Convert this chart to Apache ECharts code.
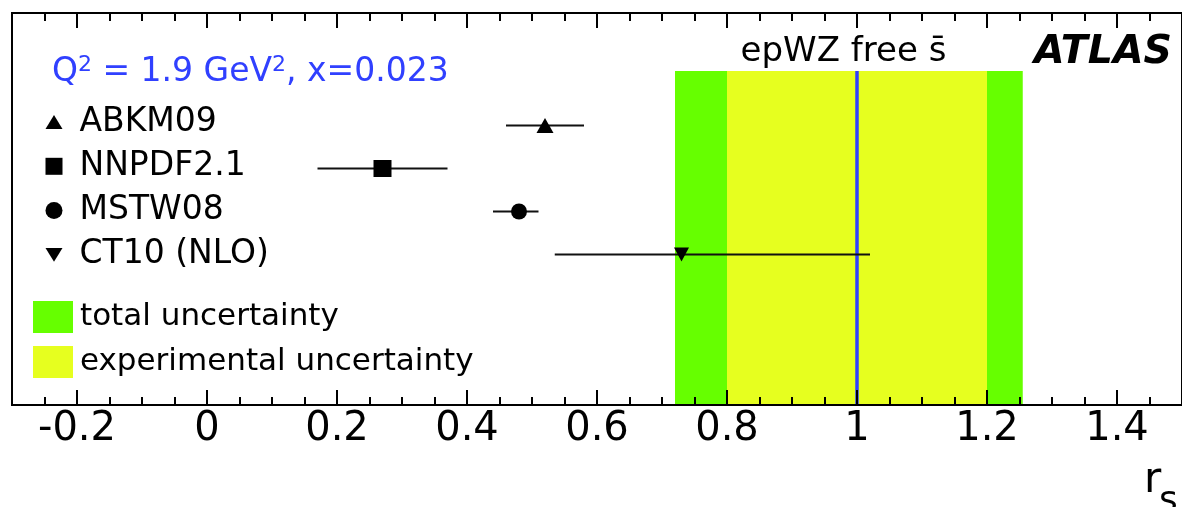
<!DOCTYPE html>
<html><head><meta charset="utf-8">
<script src="https://cdn.jsdelivr.net/npm/echarts@6/dist/echarts.min.js"></script>
<style>html,body{margin:0;padding:0;background:#fff}#c{width:1182px;height:507px}</style>
</head><body><div id="c"></div>
<script>
// ---- data ----
const models = ['ABKM09', 'NNPDF2.1', 'MSTW08', 'CT10 (NLO)'];
const central = [0.52, 0.27, 0.48, 0.73];
const errLow = [0.46, 0.17, 0.44, 0.535];
const errHigh = [0.58, 0.37, 0.51, 1.02];
const fitValue = 1.0;
const totalUnc = [0.72, 1.255];
const expUnc = [0.80, 1.20];
const bandNames = ['total uncertainty', 'experimental uncertainty'];
const fitLabel = 'epWZ free s\u0304';
const xRange = [-0.3, 1.5];

// ---- layout / style ----
const FONT = '"DejaVu Sans", sans-serif';
const rowPos = [6.5, 5.5, 4.5, 3.5];
const bandTop = 7.77;
const yMax = 9.116;
const GREEN = '#66ff00', YELLOW = '#e6ff1f', BLUE = '#3040ff';
const symbols = ['triangle', 'rect', 'circle', 'triangle'];
const symRot = [0, 0, 0, 180];
const symSize = [[17, 15], [18, 17], 16, [15, 14]];
const legendIcons = ['path://M8,0L16,13L0,13Z', 'rect', 'circle', 'path://M0,0L16,0L8,13Z'];

const chart = echarts.init(document.getElementById('c'), null, {renderer: 'canvas'});

function bandSeries(name, range, color, z) {
  return {
    name: name, type: 'custom', z: z, color: color, itemStyle: {color: color},
    data: [[range[0], range[1]]],
    renderItem: function (params, api) {
      const p0 = api.coord([api.value(0), bandTop]);
      const p1 = api.coord([api.value(1), 0]);
      return {type: 'rect', shape: {x: p0[0], y: p0[1], width: p1[0] - p0[0], height: p1[1] - p0[1]},
        style: {fill: color}};
    }
  };
}

const series = [
  bandSeries(bandNames[0], totalUnc, GREEN, 1),
  bandSeries(bandNames[1], expUnc, YELLOW, 2),
  {
    name: 'fit', type: 'custom', z: 3, data: [[fitValue]],
    renderItem: function (params, api) {
      const a = api.coord([api.value(0), 0]);
      const b = api.coord([api.value(0), bandTop]);
      return {type: 'line', shape: {x1: a[0], y1: a[1], x2: b[0], y2: b[1]}, style: {stroke: BLUE, lineWidth: 3.5}};
    }
  },
  {
    name: 'errors', type: 'custom', z: 4,
    data: models.map((m, i) => [errLow[i], errHigh[i], rowPos[i]]),
    renderItem: function (params, api) {
      const a = api.coord([api.value(0), api.value(2)]);
      const b = api.coord([api.value(1), api.value(2)]);
      return {type: 'line', shape: {x1: a[0], y1: a[1], x2: b[0], y2: b[1]}, style: {stroke: '#111', lineWidth: 2}};
    }
  }
];
models.forEach((m, i) => {
  series.push({
    name: m, type: 'scatter', z: 5, color: '#000',
    symbol: symbols[i], symbolRotate: symRot[i], symbolSize: symSize[i],
    itemStyle: {color: '#000', opacity: 1},
    data: [[central[i], rowPos[i]]],
    emphasis: {disabled: true}
  });
});

function xAxisDef(pos, major, labels) {
  const ax = {
    type: 'value', position: pos, min: xRange[0], max: xRange[1], z: 10,
    axisLine: {show: major, onZero: false, lineStyle: {color: '#000', width: 2}},
    axisTick: {show: true, inside: true, length: major ? 15 : 8, lineStyle: {color: '#000', width: 2}},
    splitLine: {show: false},
    axisLabel: {show: labels, color: '#000', fontSize: 40, fontFamily: FONT, margin: 5, lineHeight: 40,
      showMinLabel: false, showMaxLabel: false}
  };
  if (major) { ax.minInterval = 0.2; ax.maxInterval = 0.2; ax.splitNumber = 9; }
  else { ax.interval = 0.05; }
  return ax;
}

chart.setOption({
  animation: false,
  backgroundColor: '#fff',
  grid: {left: 12, top: 13, width: 1173, height: 392, show: true, borderColor: '#000', borderWidth: 2, backgroundColor: 'transparent'},
  xAxis: [xAxisDef('bottom', true, true), xAxisDef('bottom', false, false), xAxisDef('top', true, false), xAxisDef('top', false, false)],
  yAxis: {type: 'value', min: 0, max: yMax, show: false},
  legend: [
    {
      data: models.map((m, i) => ({name: m, icon: legendIcons[i]})),
      orient: 'vertical', left: 45.5, top: 105.5, padding: 0, itemWidth: 17, itemHeight: 17, itemGap: 11.3,
      selectedMode: false,
      textStyle: {color: '#000', fontSize: 33, fontFamily: FONT, lineHeight: 33, padding: [0, 0, 0, 12]}
    },
    {
      data: bandNames.map(n => ({name: n, icon: 'rect'})),
      orient: 'vertical', left: 33, top: 301, padding: 0, itemWidth: 40, itemHeight: 32, itemGap: 13,
      selectedMode: false,
      textStyle: {color: '#000', fontSize: 31, fontFamily: FONT, lineHeight: 32, padding: [0, 0, 0, 2]}
    }
  ],
  graphic: [
    {
      type: 'text', x: 52, y: 72, z: 20,
      style: {
        text: '{a|Q}{s|2}{a| = 1.9 GeV}{s|2}{a|, x=0.023}', align: 'left', verticalAlign: 'middle',
        rich: {
          a: {fontSize: 33, fontFamily: FONT, fill: BLUE, color: BLUE, lineHeight: 36},
          s: {fontSize: 22, fontFamily: FONT, fill: BLUE, color: BLUE, lineHeight: 20, verticalAlign: 'top'}
        }
      }
    },
    {type: 'text', x: 843.5, y: 52, z: 20,
      style: {text: fitLabel, fill: '#000', font: '34px ' + FONT, align: 'center', verticalAlign: 'middle'}},
    {type: 'text', x: 1034, y: 52.5, z: 20,
      style: {text: 'ATLAS', fill: '#000', font: 'italic bold 39.5px ' + FONT, align: 'left', verticalAlign: 'middle'}},
    {type: 'text', x: 1144, y: 481, z: 20,
      style: {text: 'r', fill: '#000', font: '42px ' + FONT, align: 'left', verticalAlign: 'middle'}},
    {type: 'text', x: 1159, y: 502, z: 20,
      style: {text: 's', fill: '#000', font: '36px ' + FONT, align: 'left', verticalAlign: 'middle'}}
  ],
  series: series
});
</script></body></html>
